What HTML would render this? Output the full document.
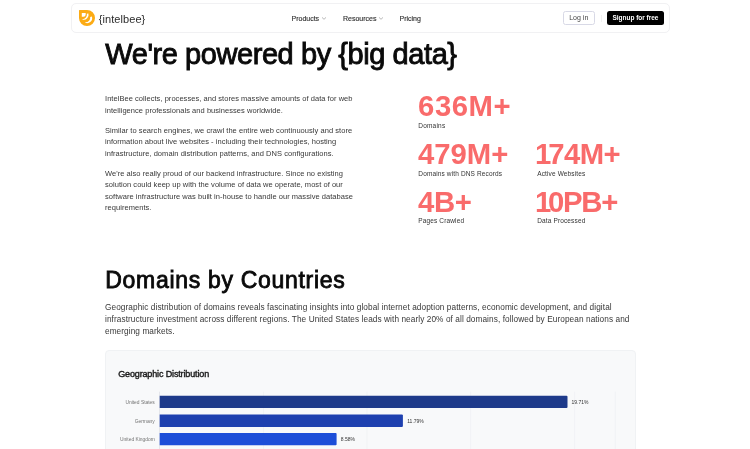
<!DOCTYPE html>
<html lang="en">
<head>
<meta charset="utf-8">
<title>IntelBee - We're powered by big data</title>
<style>
*{box-sizing:border-box;margin:0;padding:0}
html,body{width:750px;height:449px;overflow:hidden;background:#fff}
body{font-family:"Liberation Sans",sans-serif;position:relative;color:#111}
.abs{position:absolute;white-space:nowrap}
.nav{position:absolute;left:71px;top:3px;width:599px;height:30px;border:1px solid #f1f1f3;border-radius:5px;background:#fff}
.logo-t{left:98.7px;top:11.6px;font-size:11px;line-height:14px;color:#2b2b2b;letter-spacing:0.08px}
.nl{font-size:7px;line-height:10px;top:13.9px;color:#333;font-weight:400;-webkit-text-stroke:0.15px #333}
.btn{position:absolute;top:10.9px;height:14.3px;border-radius:2.5px;font-size:7px;line-height:12.6px;text-align:center;white-space:nowrap}
.login{left:563px;width:31.5px;border:1px solid #d8d9e6;color:#444;background:#fff}
.signup{left:606.7px;width:57.6px;background:#000;color:#fff;font-weight:700;font-size:6.5px;line-height:14.9px;letter-spacing:-0.02px}
.sep{position:absolute;left:601px;top:15px;width:1px;height:7px;background:#f0f0f0}
h1{font-size:29px;line-height:34px;font-weight:400;-webkit-text-stroke:0.9px #0a0a0a;left:105.3px;top:37.25px;color:#0a0a0a;letter-spacing:-0.43px}
.p{font-size:7.5px;line-height:11.5px;color:#383838;left:105px;letter-spacing:0.045px}
.num{font-size:29.3px;line-height:30px;font-weight:700;color:#f96b6b;letter-spacing:0.55px;margin-top:-1.2px;margin-left:0.6px}
.lab{font-size:6.5px;line-height:8px;color:#333;letter-spacing:0.14px}
h2{font-size:23px;line-height:28px;font-weight:400;-webkit-text-stroke:0.85px #0a0a0a;left:105.3px;top:266.3px;color:#0a0a0a;letter-spacing:0.69px}
.p2{font-size:8.25px;line-height:12.2px;color:#383838;left:105px;top:302px;letter-spacing:0.08px}
.card{position:absolute;left:105px;top:350px;width:531px;height:120px;background:#f8f9fa;border:1px solid #f0f2f4;border-radius:4px}
.ct{font-size:9px;line-height:12px;font-weight:400;-webkit-text-stroke:0.4px #1a1a1a;color:#1a1a1a;left:118.2px;top:368.1px;letter-spacing:-0.14px}
.grid{position:absolute;top:392px;width:1px;height:60px;background:#eceef1}
.bar{position:absolute;left:159.6px;height:12.3px}
.cl{font-size:4.9px;line-height:7px;color:#737373;text-align:right;width:60px;left:94.8px}
.vl{font-size:5px;line-height:7px;color:#333}
</style>
</head>
<body>
<div class="nav"></div>
<svg class="abs" style="left:79.1px;top:9.8px" width="16" height="16" viewBox="0 0 16 16">
<path d="M0.4 0H8A8 8 0 0 1 16 8A8 8 0 0 1 8 16A8 8 0 0 1 0 8V0.4A0.4 0.4 0 0 1 0.4 0Z" fill="#fcab14"/>
<path d="M2.8 3H6.7V4.5A2.3 2.3 0 0 1 4.4 6.8H2.8Z" fill="#fff"/>
<path d="M9.41 3.42A5.0 5.0 0 0 1 3.22 9.61L3.36 9.13A4.55 4.55 0 0 0 7.87 3.86Z" fill="#fff"/>
<path d="M12.90 6.41A5.15 5.15 0 0 1 6.15 12.81L6.33 12.34A4.60 4.60 0 0 0 11.19 6.96Z" fill="#fff"/>
</svg>
<div class="abs logo-t">{intelbee}</div>
<div class="abs nl" style="left:291.5px">Products</div>
<svg class="abs" style="left:320.8px;top:15.6px" width="6" height="5" viewBox="0 0 6 5"><path d="M1 1.4L3 3.3L5 1.4" fill="none" stroke="#9a9a9a" stroke-width="0.7"/></svg>
<div class="abs nl" style="left:343px">Resources</div>
<svg class="abs" style="left:377.7px;top:15.6px" width="6" height="5" viewBox="0 0 6 5"><path d="M1 1.4L3 3.3L5 1.4" fill="none" stroke="#9a9a9a" stroke-width="0.7"/></svg>
<div class="abs nl" style="left:399.5px">Pricing</div>
<div class="btn login">Log in</div>
<div class="sep"></div>
<div class="btn signup">Signup for free</div>

<h1 class="abs">We're powered by {big data}</h1>

<div class="abs p" style="top:93px">IntelBee collects, processes, and stores massive amounts of data for web<br>intelligence professionals and businesses worldwide.</div>
<div class="abs p" style="top:124.5px">Similar to search engines, we crawl the entire web continuously and store<br>information about live websites - including their technologies, hosting<br>infrastructure, domain distribution patterns, and DNS configurations.</div>
<div class="abs p" style="top:167.5px">We're also really proud of our backend infrastructure. Since no existing<br>solution could keep up with the volume of data we operate, most of our<br>software infrastructure was built in-house to handle our massive database<br>requirements.</div>

<div class="abs num" style="left:417.5px;top:92px">636M+</div>
<div class="abs lab" style="left:418.3px;top:121.9px;letter-spacing:0.2px">Domains</div>
<div class="abs num" style="left:417.5px;top:140.5px;letter-spacing:-0.05px">479M+</div>
<div class="abs lab" style="left:418.3px;top:169.7px">Domains with DNS Records</div>
<div class="abs num" style="left:534.4px;top:140.5px;letter-spacing:-0.6px"><span style="letter-spacing:-3px">1</span>74M+</div>
<div class="abs lab" style="left:537.2px;top:169.7px">Active Websites</div>
<div class="abs num" style="left:417.5px;top:188.6px;letter-spacing:-0.4px">4B+</div>
<div class="abs lab" style="left:418.3px;top:217.2px">Pages Crawled</div>
<div class="abs num" style="left:534.4px;top:188.6px;letter-spacing:-1.25px"><span style="letter-spacing:-3.4px">1</span>0PB+</div>
<div class="abs lab" style="left:537.2px;top:217.2px">Data Processed</div>

<h2 class="abs">Domains by Countries</h2>
<div class="abs p2">Geographic distribution of domains reveals fascinating insights into global internet adoption patterns, economic development, and digital<br>infrastructure investment across different regions. The United States leads with nearly 20% of all domains, followed by European nations and<br>emerging markets.</div>

<div class="card"></div>
<div class="abs ct">Geographic Distribution</div>
<svg class="abs" style="left:0;top:385px" width="750" height="64" viewBox="0 385 750 64">
<g stroke="#eceef1" stroke-width="0.6">
<line x1="263.5" y1="391.7" x2="263.5" y2="449"/>
<line x1="367" y1="391.7" x2="367" y2="449"/>
<line x1="470.6" y1="391.7" x2="470.6" y2="449"/>
<line x1="574.6" y1="391.7" x2="574.6" y2="449"/>
<line x1="615.3" y1="391.7" x2="615.3" y2="449"/>
</g>
<line x1="159.5" y1="391.7" x2="159.5" y2="449" stroke="#dde0e5" stroke-width="0.7"/>
<path d="M159.7 395.7H566.5a1 1 0 0 1 1 1V407a1 1 0 0 1 -1 1H159.7Z" fill="#1e3a8a"/>
<path d="M159.7 414.6H401.9a1 1 0 0 1 1 1V425.9a1 1 0 0 1 -1 1H159.7Z" fill="#1e40af"/>
<path d="M159.7 433H335.6a1 1 0 0 1 1 1V444.3a1 1 0 0 1 -1 1H159.7Z" fill="#1d4ed8"/>
</svg>
<div class="abs cl" style="top:398.9px">United States</div>
<div class="abs cl" style="top:417.8px">Germany</div>
<div class="abs cl" style="top:436.3px">United Kingdom</div>
<div class="abs vl" style="left:571.5px;top:398.8px">19.71%</div>
<div class="abs vl" style="left:407.2px;top:417.7px">11.79%</div>
<div class="abs vl" style="left:340.8px;top:436.2px">8.58%</div>
</body>
</html>
